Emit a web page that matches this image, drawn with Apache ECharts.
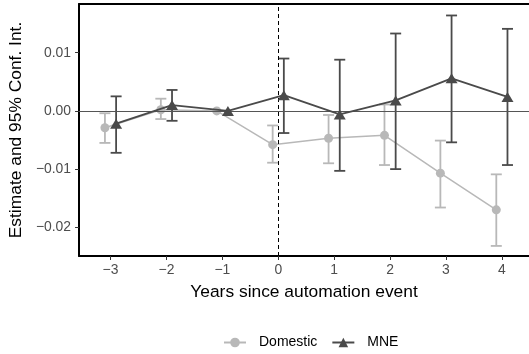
<!DOCTYPE html>
<html>
<head>
<meta charset="utf-8">
<script src="https://cdn.jsdelivr.net/npm/echarts@6/dist/echarts.min.js"></script>
<style>
  html, body { margin: 0; padding: 0; background: #ffffff; }
  #chart { width: 529px; height: 354px; }
</style>
</head>
<body>
<div id="chart"></div>
<script>
// Event-study estimates with 95% confidence intervals, by firm type
const years = [-3, -2, -1, 0, 1, 2, 3, 4];

const domesticEst = [-0.0029, 0.0002, 0.0, -0.0058, -0.0047, -0.0042, -0.0107, -0.0170];
const domesticLo  = [-0.0055, -0.0014, null, -0.0089, -0.0090, -0.0093, -0.0166, -0.0232];
const domesticHi  = [-0.0004, 0.0021, null, -0.0025, -0.0007, 0.0011, -0.0051, -0.0109];

const mneEst = [-0.0022, 0.0010, 0.0, 0.0027, -0.0006, 0.0018, 0.0056, 0.0024];
const mneLo  = [-0.0072, -0.0017, null, -0.0038, -0.0103, -0.0100, -0.0054, -0.0093];
const mneHi  = [0.0025, 0.0036, null, 0.0090, 0.0088, 0.0133, 0.0164, 0.0141];

const xTicks = [-3, -2, -1, 0, 1, 2, 3, 4];
const yTicks = [-0.02, -0.01, 0.00, 0.01];

const FONT = '"Liberation Sans", Arial, Helvetica, sans-serif';
const DOMESTIC_COLOR = '#b8b8b8';
const MNE_COLOR = '#4a4a4a';
const DODGE = 0.1;

const minusSign = s => String(s).replace('-', '\u2212');

function ciSeries(name, offset, lo, hi, color, z, extra) {
  const data = [];
  years.forEach((y, i) => {
    if (lo[i] != null && hi[i] != null) data.push([y + offset, lo[i], hi[i]]);
  });
  return Object.assign({
    type: 'custom',
    name: name,
    z: z,
    silent: true,
    data: data,
    encode: { x: 0, y: [1, 2] },
    renderItem: function (params, api) {
      const x = api.value(0);
      const a = api.coord([x, api.value(1)]);
      const b = api.coord([x, api.value(2)]);
      const w = 5.5;
      const st = { stroke: color, lineWidth: 1.8 };
      return {
        type: 'group',
        children: [
          { type: 'line', shape: { x1: a[0], y1: a[1], x2: b[0], y2: b[1] }, style: st },
          { type: 'line', shape: { x1: a[0] - w, y1: a[1], x2: a[0] + w, y2: a[1] }, style: st },
          { type: 'line', shape: { x1: b[0] - w, y1: b[1], x2: b[0] + w, y2: b[1] }, style: st }
        ]
      };
    }
  }, extra || {});
}

const chart = echarts.init(document.getElementById('chart'), null, { renderer: 'canvas' });

chart.setOption({
  animation: false,
  backgroundColor: '#ffffff',
  textStyle: { fontFamily: FONT },
  grid: { left: 76, right: 0, top: 4, bottom: 98, containLabel: false },
  legend: {
    data: ['Domestic', 'MNE'],
    left: 223,
    top: 335.5,
    padding: 0,
    itemWidth: 22,
    itemHeight: 12,
    itemGap: 14,
    textStyle: { fontFamily: FONT, fontSize: 14, color: '#000000', padding: [0, 0, 0, 8] }
  },
  xAxis: [
    {
      type: 'value',
      min: -3.563,
      max: 4.485,
      name: 'Years since automation event',
      nameLocation: 'middle',
      nameGap: 28,
      nameTextStyle: { fontFamily: FONT, fontSize: 17.4, color: '#000000' },
      axisLine: { show: true, onZero: false, lineStyle: { color: '#000000', width: 2 } },
      axisTick: { show: true, length: 4, customValues: xTicks, lineStyle: { color: '#333333', width: 1 } },
      axisLabel: {
        customValues: xTicks,
        margin: 7,
        fontFamily: FONT,
        fontSize: 13.9,
        color: '#4d4d4d',
        formatter: v => minusSign(v)
      },
      splitLine: { show: false }
    },
    {
      type: 'value',
      position: 'top',
      min: -3.563,
      max: 4.485,
      axisLine: { show: true, onZero: false, lineStyle: { color: '#000000', width: 2 } },
      axisTick: { show: false },
      axisLabel: { show: false },
      splitLine: { show: false }
    }
  ],
  yAxis: {
    type: 'value',
    min: -0.02493,
    max: 0.01837,
    name: 'Estimate and 95% Conf. Int.',
    nameLocation: 'middle',
    nameGap: 48,
    nameTextStyle: { fontFamily: FONT, fontSize: 17.4, color: '#000000' },
    axisLine: { show: true, onZero: false, lineStyle: { color: '#000000', width: 2 } },
    axisTick: { show: true, length: 4, customValues: yTicks, lineStyle: { color: '#333333', width: 1 } },
    axisLabel: {
      customValues: yTicks,
      margin: 8,
      fontFamily: FONT,
      fontSize: 13.9,
      color: '#4d4d4d',
      formatter: v => minusSign(Number(v).toFixed(2))
    },
    splitLine: { show: false }
  },
  series: [
    ciSeries('Domestic CI', -DODGE, domesticLo, domesticHi, DOMESTIC_COLOR, 2, {
      markLine: {
        silent: true,
        symbol: ['none', 'none'],
        label: { show: false },
        emphasis: { disabled: true },
        data: [
          { yAxis: 0, lineStyle: { color: '#555555', width: 1.2, type: 'solid' } },
          { xAxis: 0, lineStyle: { color: '#000000', width: 1, type: [4, 3] } }
        ]
      }
    }),
    {
      type: 'line',
      name: 'Domestic',
      z: 3,
      data: years.map((y, i) => [y - DODGE, domesticEst[i]]),
      symbol: 'circle',
      symbolSize: 9,
      showSymbol: true,
      itemStyle: { color: DOMESTIC_COLOR },
      lineStyle: { color: DOMESTIC_COLOR, width: 1.5 },
      emphasis: { disabled: true }
    },
    ciSeries('MNE CI', DODGE, mneLo, mneHi, MNE_COLOR, 4),
    {
      type: 'line',
      name: 'MNE',
      z: 5,
      data: years.map((y, i) => [y + DODGE, mneEst[i]]),
      symbol: 'triangle',
      symbolSize: [12, 10],
      showSymbol: true,
      itemStyle: { color: MNE_COLOR },
      lineStyle: { color: MNE_COLOR, width: 1.8 },
      emphasis: { disabled: true }
    }
  ]
});
</script>
</body>
</html>
